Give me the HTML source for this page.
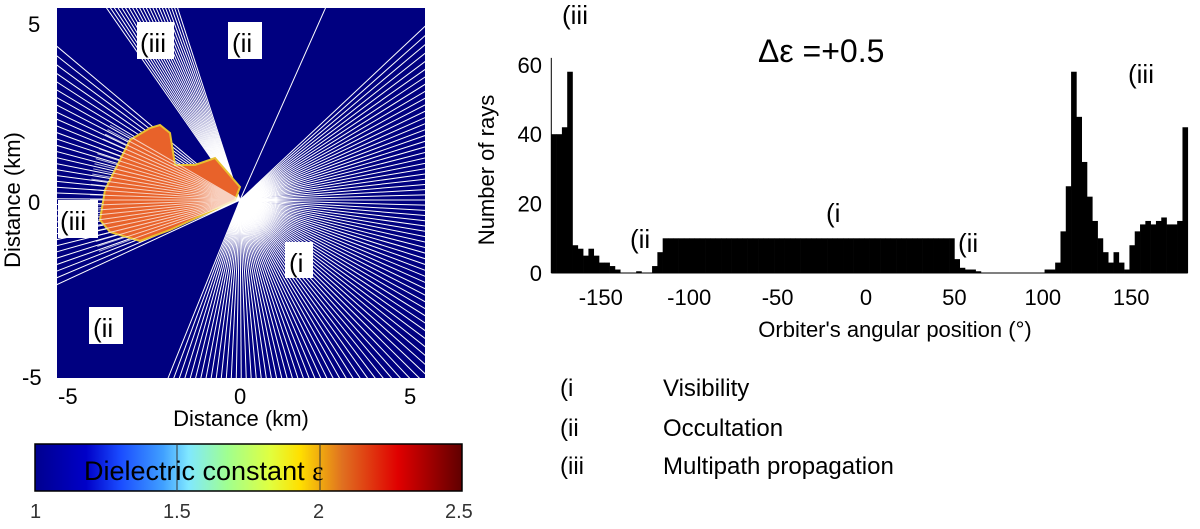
<!DOCTYPE html>
<html><head><meta charset="utf-8"><style>
body{margin:0;background:#fff;width:1200px;height:529px;overflow:hidden;font-family:"Liberation Sans",sans-serif}
svg{position:absolute;left:0;top:0}
</style></head><body>
<svg id="s" width="1200" height="529" xmlns="http://www.w3.org/2000/svg" font-family="Liberation Sans, DejaVu Sans, sans-serif">
<defs>
<linearGradient id="jet" x1="0" x2="1" y1="0" y2="0">
<stop offset="0" stop-color="#00008f"/><stop offset="0.12" stop-color="#0000c8"/><stop offset="0.2" stop-color="#1a4cff"/>
<stop offset="0.3" stop-color="#40a0ff"/><stop offset="0.36" stop-color="#80e8ff"/><stop offset="0.45" stop-color="#a0ff90"/>
<stop offset="0.55" stop-color="#e0ff40"/><stop offset="0.62" stop-color="#ffe000"/><stop offset="0.72" stop-color="#e07020"/>
<stop offset="0.85" stop-color="#e00000"/><stop offset="1" stop-color="#600000"/></linearGradient>
<clipPath id="mapclip"><rect x="57" y="8" width="368" height="370"/></clipPath>
</defs>
<g>
<rect x="57" y="8" width="368" height="370" fill="#000080"/>
<g id="rays" clip-path="url(#mapclip)" stroke="#fff" stroke-width="1"></g>
<polygon points="100,220 105,190 130,140 150,128 160,125 170,133 175,165 195,165 215,158 240,187 235,200 170,230 140,241 110,232" fill="#e8622a" stroke="#e8c030" stroke-width="2" clip-path="url(#mapclip)"/>
<g id="astro-stripes" stroke="#fff" stroke-width="1" opacity="0.7"></g>
<g font-size="26">
<rect x="137" y="22" width="37" height="37" fill="#fff"/><text x="140" y="52">(iii</text>
<rect x="228" y="22" width="34" height="37" fill="#fff"/><text x="232" y="52">(ii</text>
<rect x="58" y="200" width="40" height="38" fill="#fff"/><text x="60" y="230">(iii</text>
<rect x="285" y="242" width="28" height="36" fill="#fff"/><text x="289" y="272">(i</text>
<rect x="89" y="307" width="34" height="37" fill="#fff"/><text x="93" y="337">(ii</text>
</g>
<g font-size="22" fill="#000">
<text x="28" y="32">5</text><text x="28" y="210">0</text><text x="22" y="385">-5</text>
<text x="58" y="404">-5</text><text x="234" y="404">0</text><text x="404" y="404">5</text>
</g>
<text x="241" y="426" font-size="22" text-anchor="middle">Distance (km)</text>
<text transform="translate(20,200) rotate(-90)" font-size="22" text-anchor="middle">Distance (km)</text>
</g>
<g>
<rect x="35" y="444" width="427" height="47" fill="url(#jet)" stroke="#000" stroke-width="1.5"/>
<line x1="177" y1="444" x2="177" y2="491" stroke="#333"/><line x1="320" y1="444" x2="320" y2="491" stroke="#333"/>
<text x="84" y="480" font-size="27">Dielectric constant <tspan font-family="Liberation Serif, serif">ε</tspan></text>
<g font-size="20" fill="#333"><text x="30" y="518">1</text><text x="163" y="518">1.5</text><text x="313" y="518">2</text><text x="445" y="518">2.5</text></g>
</g>
<g id="hist"></g>
<g font-size="24">
<text x="560" y="396">(i</text><text x="663" y="396">Visibility</text>
<text x="560" y="436">(ii</text><text x="663" y="436">Occultation</text>
<text x="560" y="474">(iii</text><text x="663" y="474">Multipath propagation</text>
</g>
</svg>
<script>
const binStarts0 = -178, binWidth = 3;
const counts = [40,40,42,58,8,7,5,7,5,3,3,2,1,0,0,0,0.5,0,0,2,6,
10,10,10,10,10,10,10,10,10,10,10,10,10,10,10,10,10,10,10,10,10,10,10,10,10,10,10,10,10,10,10,10,10,10,10,10,10,10,10,10,10,10,10,10,10,10,10,10,10,10,10,10,10,10,10,
4,1.5,1,1,0.5,0,0,0,0,0,0,0,0,0,0,0,0,1,1,3,12,25,58,45,32,22,15,10,6,3,6,3,1,8,12,14,15,14,15,16,14,14,15,42];
const xTicks = [-150,-100,-50,0,50,100,150];
const yTicks = [0,20,40,60];
const NS='http://www.w3.org/2000/svg';
const X = d => 866 + d*1.768;
const Y = v => 273 - v*3.47;
const h = document.getElementById('hist');
function mk(t,a,p){const e=document.createElementNS(NS,t);for(const k in a)e.setAttribute(k,a[k]);(p||h).appendChild(e);return e;}
counts.forEach((c,i)=>{
  const x0=X(binStarts0+i*binWidth), x1=X(binStarts0+(i+1)*binWidth);
  const r=mk('rect',{x:x0,y:Y(c),width:x1-x0+0.3,height:Y(0)-Y(c),fill:'#000'});
  
  
});
mk('line',{x1:X(-178),y1:Y(0),x2:X(182),y2:Y(0),stroke:'#000','stroke-width':1});
mk('line',{x1:X(-178),y1:Y(0),x2:X(-178),y2:Y(62),stroke:'#000','stroke-width':1});
xTicks.forEach(t=>{const e=mk('text',{x:X(t),y:305,'font-size':22,'text-anchor':'middle'});e.textContent=t;
  });
yTicks.forEach(t=>{const e=mk('text',{x:542,y:Y(t)+8,'font-size':22,'text-anchor':'end'});e.textContent=t;
  });
let t=mk('text',{x:895,y:337,'font-size':22,'text-anchor':'middle'});t.textContent="Orbiter's angular position (°)";

t=mk('text',{transform:'translate(494,170) rotate(-90)','font-size':22,'text-anchor':'middle'});t.textContent='Number of rays';

t=mk('text',{x:758,y:62,'font-size':32});t.textContent='Δε =+0.5';

[['(iii',562,24],['(i',826,222],['(ii',630,248],['(ii',958,252],['(iii',1128,83]].forEach(l=>{
  const e=mk('text',{x:l[1],y:l[2],'font-size':26});e.textContent=l[0];
  });
const rg=document.getElementById('rays');
const cx=240,cy=200;
function ray(a,len){const r=a*Math.PI/180;mk('line',{x1:cx,y1:cy,x2:cx+len*Math.cos(r),y2:cy-len*Math.sin(r)},rg);}
for(let a=-112;a<=44;a+=1.6) ray(a,500);
ray(66,500);
for(let a=108;a<=125;a+=0.8) ray(a,500);
for(let a=140;a<=205;a+=1.8) ray(a,500);
const st=document.getElementById('astro-stripes');
for(let a=150;a<=200;a+=2){const r=a*Math.PI/180;mk('line',{x1:cx,y1:cy,x2:cx+150*Math.cos(r),y2:cy-150*Math.sin(r)},st);}
</script>
</body></html>
